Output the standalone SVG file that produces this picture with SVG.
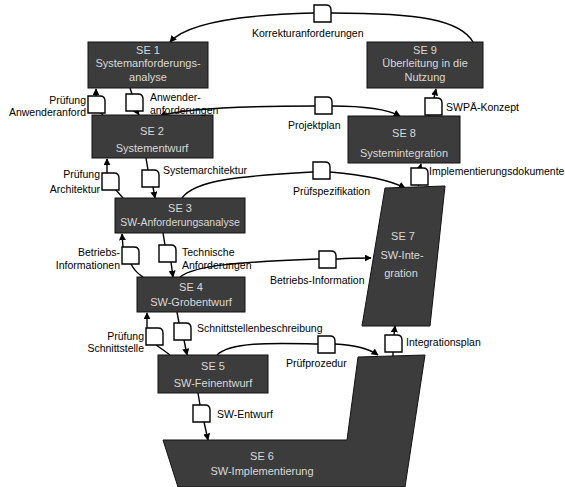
<svg xmlns="http://www.w3.org/2000/svg" xmlns:xlink="http://www.w3.org/1999/xlink" width="565" height="487" viewBox="0 0 565 487">
<defs>
<style>
.node{fill:#3c3c3c;stroke:#111;stroke-width:1}
.nt{font-family:"Liberation Sans",Arial,sans-serif;font-size:11px;fill:#d9d9d9;text-anchor:middle}
.lbl{font-family:"Liberation Sans",Arial,sans-serif;font-size:10.5px;fill:#000}
.r{text-anchor:end}
.c{fill:none;stroke:#000;stroke-width:1.4}
.doc{fill:#fff;stroke:#000;stroke-width:1.4}
</style>
<marker id="ah" viewBox="0 0 10 10" refX="9" refY="5" markerWidth="7" markerHeight="7" markerUnits="userSpaceOnUse" orient="auto-start-reverse">
<path d="M0,0 L10,5 L0,10 Z" fill="#000"/>
</marker>
<path id="doc" class="doc" d="M0,0 H12 Q17,0 17,5 V17 H0 Z"/>
</defs>
<rect width="565" height="487" fill="#fff"/>

<g id="connectors">
<path class="c" d="M473,42 C460,20 420,13 332,13 L313,13 C230,15 185,25 170,42" marker-end="url(#ah)"/>
<path class="c" d="M103,115 L98,110"/>
<path class="c" d="M96,96 L96,89" marker-end="url(#ah)"/>
<path class="c" d="M130,88 L132,94"/>
<path class="c" d="M136,110 L139,115" marker-end="url(#ah)"/>
<path class="c" d="M400,116 C385,108 360,106 332,106 L315,106 C240,106 185,108 160,116" marker-end="url(#ah)" marker-start="url(#ah)"/>
<path class="c" d="M428,116 L431,114"/>
<path class="c" d="M434,98 L436,89" marker-end="url(#ah)"/>
<path class="c" d="M107,173 L107,159" marker-end="url(#ah)"/>
<path class="c" d="M116,190 L123,198"/>
<path class="c" d="M146,158 L148,170"/>
<path class="c" d="M153,187 L155,198" marker-end="url(#ah)"/>
<path class="c" d="M182,198 C195,180 240,176 312,172 L330,172 C365,175 390,180 405,188" marker-end="url(#ah)"/>
<path class="c" d="M418,186 L419,185"/>
<path class="c" d="M420,168 L421,164" marker-end="url(#ah)"/>
<path class="c" d="M123,247 L122,234" marker-end="url(#ah)"/>
<path class="c" d="M131,264 C135,272 140,275 143,277"/>
<path class="c" d="M163,233 L165,245"/>
<path class="c" d="M171,262 L173,277" marker-end="url(#ah)"/>
<path class="c" d="M180,277 C195,265 240,262 318,259 L338,259 C350,258 360,258 371,258" marker-end="url(#ah)"/>
<path class="c" d="M147,328 L147,313" marker-end="url(#ah)"/>
<path class="c" d="M156,345 C162,349 166,352 170,355"/>
<path class="c" d="M177,312 L179,323"/>
<path class="c" d="M184,340 L187,355" marker-end="url(#ah)"/>
<path class="c" d="M217,355 C230,342 270,343 317,344 L335,344 C355,345 368,348 378,355" marker-end="url(#ah)"/>
<path class="c" d="M393,356 L393,352"/>
<path class="c" d="M394,335 L395,326" marker-end="url(#ah)"/>
<path class="c" d="M198,393 L200,405"/>
<path class="c" d="M204,422 L208,440" marker-end="url(#ah)"/>
</g>

<g id="docs">
<use xlink:href="#doc" x="314" y="5"/>
<use xlink:href="#doc" x="88" y="96"/>
<use xlink:href="#doc" x="126" y="94"/>
<use xlink:href="#doc" x="315" y="97"/>
<use xlink:href="#doc" x="425" y="98"/>
<use xlink:href="#doc" x="102" y="173"/>
<use xlink:href="#doc" x="142" y="170"/>
<use xlink:href="#doc" x="313" y="162"/>
<use xlink:href="#doc" x="411" y="168"/>
<use xlink:href="#doc" x="122" y="247"/>
<use xlink:href="#doc" x="159" y="245"/>
<use xlink:href="#doc" x="319" y="251"/>
<use xlink:href="#doc" x="146" y="328"/>
<use xlink:href="#doc" x="174" y="323"/>
<use xlink:href="#doc" x="318" y="336"/>
<use xlink:href="#doc" x="385" y="335"/>
<use xlink:href="#doc" x="193" y="405"/>
</g>

<g id="SE1"><rect class="node" x="88" y="42" width="120" height="46"/>
<text class="nt" x="148" y="54">SE 1</text><text class="nt" x="148" y="67">Systemanforderungs-</text><text class="nt" x="148" y="81">analyse</text></g>
<g id="SE9"><rect class="node" x="367" y="42" width="116" height="46"/>
<text class="nt" x="425" y="54">SE 9</text><text class="nt" x="425" y="67">Überleitung in die</text><text class="nt" x="425" y="81">Nutzung</text></g>
<g id="SE2"><rect class="node" x="92" y="115" width="121" height="43"/>
<text class="nt" x="152" y="135">SE 2</text><text class="nt" x="152" y="152">Systementwurf</text></g>
<g id="SE8"><rect class="node" x="348" y="116" width="112" height="47"/>
<text class="nt" x="404" y="137">SE 8</text><text class="nt" x="404" y="157">Systemintegration</text></g>
<g id="SE3"><rect class="node" x="115" y="198" width="130" height="35"/>
<text class="nt" x="180" y="212">SE 3</text><text class="nt" x="180" y="226" style="font-size:10.5px">SW-Anforderungsanalyse</text></g>
<g id="SE4"><rect class="node" x="137" y="277" width="108" height="35"/>
<text class="nt" x="191" y="291">SE 4</text><text class="nt" x="191" y="306">SW-Grobentwurf</text></g>
<g id="SE5"><rect class="node" x="158" y="355" width="110" height="38"/>
<text class="nt" x="213" y="370">SE 5</text><text class="nt" x="213" y="387">SW-Feinentwurf</text></g>
<g id="SE7"><polygon class="node" points="385,188 445,186 430,326 362,326"/>
<text class="nt" x="403" y="240">SE 7</text><text class="nt" x="402" y="259">SW-Inte-</text><text class="nt" x="401" y="277">gration</text></g>
<g id="SE6"><polygon class="node" points="163,440 347,440 358,357 425,355 405,487 178,487"/>
<text class="nt" x="262" y="460">SE 6</text><text class="nt" x="262" y="475">SW-Implementierung</text></g>

<g id="labels">
<text class="lbl" x="252" y="37">Korrekturanforderungen</text>
<text class="lbl r" x="86" y="104">Prüfung</text>
<text class="lbl r" x="86" y="116">Anwenderanford</text>
<text class="lbl" x="150" y="101">Anwender-</text>
<text class="lbl" x="150" y="114">anforderungen</text>
<text class="lbl" x="288" y="129">Projektplan</text>
<text class="lbl" x="446" y="111">SWPÄ-Konzept</text>
<text class="lbl r" x="100" y="178">Prüfung</text>
<text class="lbl r" x="100" y="193">Architektur</text>
<text class="lbl" x="163" y="174">Systemarchitektur</text>
<text class="lbl" x="293" y="195">Prüfspezifikation</text>
<text class="lbl" x="429" y="175">Implementierungsdokumente</text>
<text class="lbl r" x="120" y="256">Betriebs-</text>
<text class="lbl r" x="120" y="269">Informationen</text>
<text class="lbl" x="182" y="256">Technische</text>
<text class="lbl" x="182" y="269">Anforderungen</text>
<text class="lbl" x="270" y="284">Betriebs-Information</text>
<text class="lbl r" x="144" y="340">Prüfung</text>
<text class="lbl r" x="144" y="352">Schnittstelle</text>
<text class="lbl" x="197" y="332">Schnittstellenbeschreibung</text>
<text class="lbl" x="286" y="367">Prüfprozedur</text>
<text class="lbl" x="406" y="346">Integrationsplan</text>
<text class="lbl" x="217" y="418">SW-Entwurf</text>
</g>
</svg>
